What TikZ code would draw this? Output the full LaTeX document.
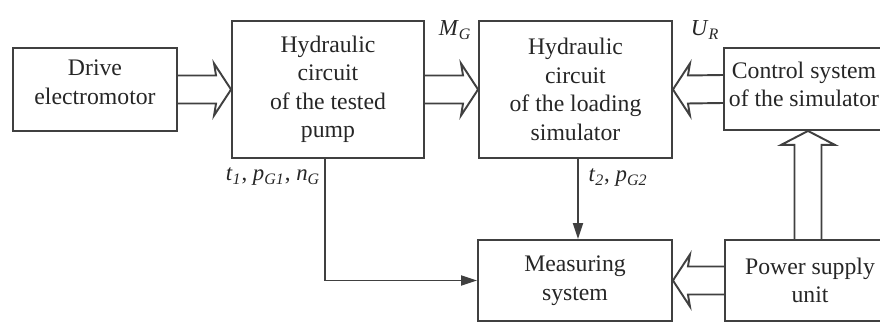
\documentclass[tikz,border=0pt]{standalone}
\usepackage{fontspec}
\setmainfont{Liberation Serif}
\usetikzlibrary{calc,arrows.meta}
\newcommand\isub[2]{\textit{#1}\textsubscript{\textit{#2}}}
\newcommand\harrow[3]{% #1 start, #2 tip, #3 direction (1 right, -1 left)
  \draw[hol] ($(#1)+(0,-14)$) -- ($(#2)+(-15*#3,-14)$) -- ($(#2)+(-17*#3,-26)$) -- (#2)
    -- ($(#2)+(-17*#3,26)$) -- ($(#2)+(-15*#3,14)$) -- ($(#1)+(0,14)$);}
\newcommand\uarrow[2]{% #1 start (bottom), #2 tip (top)
  \draw[hol] ($(#1)+(-13.5,0)$) -- ($(#2)+(-13.5,14)$) -- ($(#2)+(-27,14)$) -- (#2)
    -- ($(#2)+(27,14)$) -- ($(#2)+(13.5,14)$) -- ($(#1)+(13.5,0)$);}
\begin{document}
\begin{tikzpicture}[x=0.02cm,y=-0.02cm,
  box/.style={draw=black!75,line width=1.1pt,align=center,inner sep=0pt,
    font=\fontsize{13.5}{16.2}\selectfont,text=black!85},
  hol/.style={draw=black!75,line width=1.1pt,miter limit=10},
  sig/.style={draw=black!75,line width=1.1pt,-{Triangle[length=0.32cm,width=0.2cm]}},
  lab/.style={font=\fontsize{13}{15}\selectfont,text=black!85,inner sep=0pt}]
\useasboundingbox (0,0) rectangle (880,323);
\clip (0,0) rectangle (880,323);
\node[box,minimum width=3.28cm,minimum height=1.66cm,text depth=0.3cm] (drive) at (95,89.5) {Drive\\electromotor};
\node[box,minimum width=3.84cm,minimum height=2.74cm] (pump) at (328,89.5) {Hydraulic\\circuit\\of the tested\\pump};
\node[box,minimum width=3.86cm,minimum height=2.74cm] (load) at (575.5,89.5) {Hydraulic\\circuit\\of the loading\\simulator};
\node[box,minimum width=3.2cm,minimum height=1.64cm,text depth=0.18cm] (ctrl) at (804,89) {Control system\\of the simulator};
\node[box,minimum width=3.88cm,minimum height=1.62cm] (meas) at (575,280.5) {Measuring\\system};
\node[box,minimum width=3.4cm,minimum height=1.62cm] (power) at (810,280.5) {Power supply\\unit};
\harrow{drive.east}{pump.west}{1}
\harrow{pump.east}{load.west}{1}
\harrow{ctrl.west}{load.east}{-1}
\harrow{power.west}{meas.east}{-1}
\uarrow{$(power.north)+(-2,0)$}{$(ctrl.south)+(4,0)$}
\draw[sig] ($(pump.south)+(-3,0)$) |- (meas.west);
\draw[sig] ($(load.south)+(2.5,0)$) -- ($(meas.north)+(3,0)$);
\node[lab] (mg) at (455,30) {\isub{M}{G}};
\node[lab] (ur) at (705,30) {\isub{U}{R}};
\node[lab] (l1) at (273,177) {\isub{t}{1}, \isub{p}{G1}, \isub{n}{G}};
\node[lab] (l2) at (618,178) {\isub{t}{2}, \isub{p}{G2}};
\end{tikzpicture}
\end{document}
